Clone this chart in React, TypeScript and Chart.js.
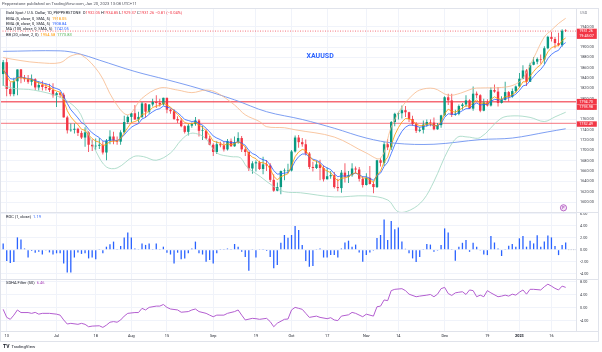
import React, { useEffect, useRef } from 'react';
import { Chart, registerables } from 'chart.js';
Chart.register(...registerables);

// ---- Price data (daily bars Jun 10 2022 .. Jan 20 2023), index = bar number ----
const opens = [
  1848,1871,1819,1809,1834,1857,1840,1838,1833,1838,
  1822,1827,1823,1821,1817,1807,1811,1808,1764,1739,
  1740,1742,1734,1725,1735,1711,1708,1709,1711,1696,
  1719,1727,1719,1717,1735,1755,1765,1772,1760,1765,
  1791,1775,1789,1794,1792,1789,1802,1779,1776,1761,
  1758,1747,1736,1748,1751,1758,1738,1738,1723,1711,
  1697,1712,1710,1702,1718,1708,1716,1724,1702,1697,
  1665,1675,1677,1664,1673,1671,1643,1622,1629,1660,
  1660,1661,1698,1725,1716,1712,1694,1668,1666,1673,
  1666,1644,1650,1652,1629,1627,1657,1649,1652,1665,
  1663,1645,1633,1647,1635,1629,1681,1676,1712,1706,
  1755,1771,1772,1778,1774,1761,1751,1738,1740,1750,
  1755,1754,1741,1749,1768,1803,1797,1769,1771,1786,
  1789,1797,1781,1810,1807,1777,1793,1787,1817,1814,
  1792,1798,1813,1804,1815,1824,1839,1855,1833,1866,
  1872,1877,1876,1898,1920,1916,1908,1904,1932.05
];
const highs = [
  1875,1878,1832,1841,1857,1858,1846,1846,1847,1840,
  1834,1835,1830,1829,1830,1813,1813,1812,1767,1752,
  1752,1744,1738,1745,1737,1721,1723,1724,1718,1722,
  1739,1736,1727,1739,1767,1768,1773,1788,1775,1794,
  1792,1790,1800,1807,1800,1802,1802,1781,1780,1766,
  1763,1749,1751,1754,1765,1761,1748,1741,1728,1714,
  1718,1717,1717,1722,1723,1727,1735,1728,1707,1698,
  1679,1681,1680,1688,1681,1675,1654,1638,1661,1665,
  1674,1701,1729,1730,1724,1721,1697,1678,1680,1682,
  1671,1667,1660,1658,1645,1662,1675,1660,1675,1669,
  1668,1650,1656,1670,1640,1682,1685,1717,1722,1757,
  1773,1775,1787,1786,1775,1767,1755,1745,1758,1760,
  1760,1764,1753,1769,1805,1810,1810,1779,1789,1792,
  1807,1799,1824,1814,1809,1800,1799,1822,1828,1823,
  1805,1833,1815,1820,1826,1850,1865,1858,1870,1881,
  1880,1886,1902,1922,1930,1920,1928,1935,1934.85
];
const lows = [
  1825,1805,1805,1805,1807,1830,1833,1829,1826,1817,
  1816,1816,1816,1813,1802,1784,1802,1764,1733,1736,
  1733,1728,1722,1707,1697,1699,1701,1703,1692,1681,
  1712,1712,1711,1711,1733,1751,1754,1759,1754,1763,
  1764,1771,1785,1782,1785,1787,1772,1771,1759,1753,
  1745,1733,1729,1744,1748,1727,1720,1721,1710,1689,
  1693,1706,1698,1700,1707,1707,1713,1697,1689,1660,
  1655,1659,1662,1654,1660,1639,1620,1621,1615,1642,
  1656,1659,1696,1705,1707,1690,1664,1659,1664,1642,
  1640,1644,1645,1626,1621,1618,1638,1637,1649,1656,
  1640,1628,1632,1634,1617,1627,1669,1670,1701,1701,
  1747,1760,1762,1765,1755,1748,1734,1735,1733,1746,
  1747,1739,1740,1744,1766,1788,1765,1767,1768,1779,
  1784,1781,1777,1801,1774,1776,1785,1785,1812,1785,
  1791,1797,1795,1802,1812,1822,1838,1825,1833,1865,
  1867,1868,1867,1896,1911,1898,1902,1901,1929.37
];
const closes = [
  1871,1819,1809,1834,1857,1840,1838,1833,1838,1822,
  1827,1823,1821,1817,1807,1811,1808,1764,1739,1740,
  1742,1734,1725,1735,1711,1708,1709,1711,1696,1719,
  1727,1719,1717,1735,1755,1765,1772,1760,1765,1791,
  1775,1789,1794,1792,1789,1802,1779,1776,1761,1758,
  1747,1736,1748,1751,1758,1738,1738,1723,1711,1697,
  1712,1710,1702,1718,1708,1716,1724,1702,1697,1665,
  1675,1677,1664,1673,1671,1643,1622,1629,1660,1660,
  1661,1698,1725,1716,1712,1694,1668,1666,1673,1666,
  1644,1650,1652,1629,1627,1657,1649,1652,1665,1663,
  1645,1633,1647,1635,1629,1681,1676,1712,1706,1755,
  1771,1772,1778,1774,1761,1751,1738,1740,1750,1755,
  1754,1741,1749,1768,1803,1797,1769,1771,1786,1789,
  1797,1781,1810,1807,1777,1793,1787,1817,1814,1792,
  1798,1813,1804,1815,1824,1839,1855,1833,1866,1872,
  1877,1876,1898,1920,1916,1908,1904,1932,1931.26
];

// ---- Indicator values ----
const ema5 = [
  1857,1844,1833,1833,1841,1841,1840,1838,1838,1833,
  1831,1828,1826,1823,1818,1815,1813,1797,1777,1765,
  1757,1750,1741,1739,1730,1723,1718,1716,1709,1712,
  1717,1718,1718,1723,1734,1744,1754,1756,1759,1770,
  1771,1777,1783,1786,1787,1792,1788,1784,1776,1770,
  1762,1754,1752,1752,1754,1749,1745,1738,1729,1718,
  1716,1714,1710,1713,1711,1713,1717,1712,1707,1693,
  1687,1684,1677,1676,1674,1664,1650,1643,1649,1652,
  1655,1670,1688,1697,1702,1700,1689,1681,1679,1674,
  1664,1660,1657,1648,1641,1646,1647,1649,1654,1657,
  1653,1646,1647,1643,1638,1652,1660,1678,1687,1710,
  1730,1744,1755,1762,1761,1758,1751,1748,1748,1751,
  1752,1748,1748,1755,1771,1780,1776,1774,1778,1782,
  1787,1785,1793,1798,1791,1792,1790,1799,1804,1800,
  1799,1804,1804,1808,1813,1822,1833,1833,1844,1853,
  1861,1866,1877,1891,1899,1902,1903,1913,1918
];
const ema8 = [
  1856,1848,1839,1838,1842,1842,1841,1839,1839,1835,
  1833,1831,1829,1827,1822,1820,1817,1805,1791,1779,
  1771,1763,1754,1750,1741,1734,1729,1725,1718,1718,
  1720,1720,1719,1723,1730,1738,1745,1749,1752,1761,
  1764,1770,1775,1779,1781,1786,1784,1782,1778,1773,
  1767,1760,1758,1756,1757,1752,1749,1743,1736,1728,
  1724,1721,1717,1717,1715,1715,1717,1714,1710,1700,
  1694,1691,1685,1682,1680,1672,1661,1654,1655,1656,
  1657,1666,1679,1688,1693,1693,1688,1683,1681,1677,
  1670,1666,1663,1655,1649,1651,1650,1651,1654,1656,
  1653,1649,1649,1646,1642,1651,1656,1669,1677,1694,
  1711,1725,1737,1745,1749,1749,1747,1745,1746,1748,
  1750,1748,1748,1752,1764,1771,1770,1770,1773,1777,
  1781,1781,1788,1792,1788,1789,1789,1795,1799,1798,
  1798,1801,1802,1805,1809,1816,1825,1827,1835,1843,
  1851,1857,1866,1878,1886,1891,1894,1904,1909
];
// [bar index, value]
const ma100 = [
  [0,1892],[16,1893],[21,1888],[27,1875],[37,1853],[46,1837],[55,1820],[65,1798],
  [74,1775],[84,1760],[93,1743],[102,1724],[110,1714],[121,1712],[134,1721],
  [143,1724],[153,1736],[158,1742]
];
const bbUpper = [
  [0,1880],[5,1874],[10,1870],[16,1870],[19,1883],[22,1885],[27,1850],[31,1798],[35,1769],
  [39,1801],[44,1821],[49,1817],[53,1812],[57,1817],[60,1812],[65,1788],[68,1769],
  [72,1756],[74,1746],[79,1744],[82,1740],[93,1726],[102,1695],[106,1685],[109,1745],
  [112,1784],[114.5,1804],[117,1817],[121,1820],[125,1807],[128.5,1811],[132,1820],
  [134,1821],[140,1822],[143.5,1827],[146,1840],[149,1879],[152,1920],[154,1933],
  [156,1946],[158,1956]
];
const bbLower = [
  [0,1826],[3,1820],[8.5,1817],[16,1803],[21,1778],[23.5,1740],[26.3,1695],[29,1668],
  [32,1666],[36.6,1688],[39.4,1688],[43,1681],[47,1695],[50,1720],[52.6,1733],
  [55.4,1730],[57.3,1720],[60,1695],[64,1688],[66.6,1686],[68.5,1668],[72.3,1649],
  [76,1630],[79,1620],[83.5,1618],[93,1610],[102,1612],[108,1604],[111,1581],
  [114.5,1585],[118,1604],[121,1640],[125,1701],[127.7,1726],[130.5,1726],[134,1725],
  [139.8,1762],[143.5,1767],[148,1764],[152,1756],[155,1765],[158,1774]
];
const roc = [
  1.05,-1.9,-2.2,-2.05,2.05,1.7,0.2,-1.3,-0.2,-0.5,
  -0.35,-0.8,-0.15,-0.45,-0.8,-0.6,-0.6,-2.3,-3.8,-3.8,
  -1.3,-0.45,-0.7,-0.6,-1.45,-1.3,-1.6,0.05,-0.6,0.5,
  0.9,1.35,0.05,0.6,2.05,2.85,2.05,0.2,0.05,1.05,
  0.8,1.05,0.05,1.05,0.05,0.5,-0.5,-0.8,-2.3,-0.5,
  -1.6,-1.45,-0.6,0.2,1.35,-0.6,-0.8,-2.0,-1.7,-2.3,
  -0.6,0.05,0.05,0.2,0.05,0.95,0.5,-0.35,-1.2,-3.5,
  0.05,-1.3,0.05,0.05,-0.2,-1.2,-3.1,-2.55,1.15,2.45,
  2.0,2.45,3.95,3.3,
  0.8,-1.9,-2.85,-2.7,0.05,0.2,-1.3,-1.3,-0.9,-0.9,
  -1.3,0.2,1.2,1.5,0.5,0.85,-0.45,-2.0,-0.9,-0.45,
  -0.15,1.95,2.45,5.05,1.6,4.8,3.4,3.7,1.35,0.15,
  -0.6,-1.45,-2.05,-1.2,0.05,0.95,0.85,-0.35,-0.15,0.8,
  3.55,2.85,0.05,-1.85,0.5,1.15,1.6,-0.35,1.15,0.5,
  -0.15,-0.8,-0.9,2.3,1.2,0.2,-1.05,0.05,0.65,0.95,
  0.5,1.9,2.3,0.5,1.5,1.05,2.4,0.5,1.35,2.35,
  2.05,0.6,-0.9,0.8,1.2
];
const smi = [
  [0,-0.5],[1,-3.0],[2,-3.6],[3,-2.3],[4,-0.7],[5,-1.5],[7,-1.5],[8,-1.75],[9,-1.45],[10,-2.0],
  [11,-1.75],[13,-1.75],[15,-2.0],[16,-2.3],[17,-3.8],[18,-5.05],[19,-4.85],[21,-5.15],[22,-4.85],
  [23,-5.15],[24,-5.9],[25,-5.7],[27,-5.6],[28,-6.1],[29,-5.4],[30,-4.5],[31,-4.3],[32,-4.5],
  [33,-3.8],[34,-2.6],[35,-1.75],[37,-1.5],[38,-1.5],[39,-0.2],[40,-0.7],[41,0.1],[43,0.5],
  [44,0.5],[45,1.0],[46,0.1],[47,-0.4],[49,-0.7],[50,-1.4],[52,-1.2],[53,-0.7],[54,-0.4],
  [55,-1.2],[57,-1.75],[58,-2.3],[59,-2.8],[60,-2.3],[62,-2.3],[63,-1.75],[65,-1.2],[66,-0.7],
  [67,-2.3],[68,-3.8],[70,-3.3],[71,-3.4],[72,-3.6],[74,-3.3],[75,-4.3],[76,-5.9],[77,-4.8],
  [79,-3.6],[80,-3.5],[81,-0.7],[82,0.1],[83,-0.2],[84,-0.5],[85,-1.75],[86,-3.0],[88,-2.6],
  [89,-3.0],[91,-3.4],[92,-3.1],[93,-3.8],[94,-4.0],[95,-2.6],[97,-2.2],[98,-1.45],[99,-1.75],
  [101,-2.8],[102,-2.0],[104,-2.6],[105,0.3],[106,0.5],[107,2.4],[108,2.2],[109,5.3],[110,5.7],
  [112,5.9],[113,5.3],[114,4.2],[116,3.4],[117,3.6],[119,3.9],[120,4.1],[121,3.4],[122,4.2],
  [123,5.9],[124,6.3],[125,4.4],[126,3.8],[127,4.6],[128,4.8],[129,4.95],[130,4.1],[131,5.5],
  [132,5.3],[133,3.4],[134,3.9],[135,3.4],[136,5.3],[137,4.6],[139,3.4],[140,3.6],[141,3.9],
  [142,3.6],[143,4.2],[144,3.9],[145,4.8],[146,5.5],[147,4.2],[148,5.7],[149,5.7],[151,5.5],
  [152,6.5],[153,7.3],[154,6.7],[155,6.0],[156,5.5],[157,6.7],[158,6.3]
];

// ---- Axes ----
const xTickIdx = [1,15,26,36,46,59,71,81,91,102,111,124,136,145,154];
const xTickLabels = ['13','Jul','18','Aug','15','Sep','19','Oct','17','Nov','14','Dec','19','2023','16'];
const priceTicks = [1600,1620,1640,1660,1680,1700,1720,1740,1760,1780,1800,1820,1840,1860,1880,1900,1920,1940];
const rocTicks = [6,4,2,0,-2,-4];
const smiTicks = [8,4,0,-4];
const levels = [1794.70, 1793.98, 1752.49];
const lastPrice = 1931.26;

const UP = '#089981';
const DOWN = '#f23645';
const TXT = '#131722';
const AX = '#3b3e48';
const GRID = '#f0f3fa';
const FONT = 'Roboto, "Noto Sans", sans-serif';

const candleColor = (c: any) => {
  const i = c.dataIndex;
  return closes[i] >= opens[i] ? UP : DOWN;
};

const paneClip = {
  id: 'paneClip',
  beforeDatasetDraw(chart: any, args: any) {
    const ys = args.meta.yScale;
    const a = chart.chartArea;
    const ctx = chart.ctx;
    ctx.save();
    ctx.beginPath();
    ctx.rect(a.left, ys.top, a.right - a.left, ys.bottom - ys.top);
    ctx.clip();
  },
  afterDatasetDraw(chart: any) {
    chart.ctx.restore();
  },
};

function segs(ctx: CanvasRenderingContext2D, x: number, y: number, parts: [string, string][]) {
  for (const [t, c] of parts) {
    ctx.fillStyle = c;
    ctx.fillText(t, x, y);
    x += ctx.measureText(t).width;
  }
}

function priceBox(ctx: CanvasRenderingContext2D, x: number, yc: number, lines: string[]) {
  const h = 4.8 * lines.length + 0.6;
  ctx.fillStyle = DOWN;
  ctx.fillRect(x, yc - 2.7, 20, h);
  ctx.fillStyle = '#ffffff';
  ctx.font = `3.8px ${FONT}`;
  ctx.textBaseline = 'middle';
  ctx.textAlign = 'left';
  lines.forEach((l, k) => ctx.fillText(l, x + 2.4, yc + k * 4.6));
}

const overlay = {
  id: 'overlay',
  beforeDatasetsDraw(chart: any) {
    const ctx = chart.ctx as CanvasRenderingContext2D;
    const a = chart.chartArea;
    const y = chart.scales.y;
    ctx.save();
    ctx.strokeStyle = 'rgba(242,54,69,0.55)';
    ctx.lineWidth = 1.2;
    for (const v of levels) {
      const py = y.getPixelForValue(v);
      ctx.beginPath();
      ctx.moveTo(a.left, py);
      ctx.lineTo(a.right, py);
      ctx.stroke();
    }
    const lp = y.getPixelForValue(lastPrice);
    ctx.strokeStyle = DOWN;
    ctx.lineWidth = 0.7;
    ctx.setLineDash([1, 1.5]);
    ctx.beginPath();
    ctx.moveTo(a.left, lp);
    ctx.lineTo(a.right, lp);
    ctx.stroke();
    const yr = chart.scales.yRoc;
    const x0 = chart.scales.x.getPixelForValue(closes.length - 1) + 2.5;
    ctx.strokeStyle = '#b2b5be';
    ctx.beginPath();
    ctx.moveTo(x0, yr.getPixelForValue(0));
    ctx.lineTo(a.right, yr.getPixelForValue(0));
    ctx.stroke();
    ctx.setLineDash([]);
    ctx.restore();
  },
  afterDraw(chart: any) {
    const ctx = chart.ctx as CanvasRenderingContext2D;
    const a = chart.chartArea;
    const y = chart.scales.y;
    const yr = chart.scales.yRoc;
    const ys = chart.scales.ySmi;
    ctx.save();
    ctx.strokeStyle = '#e0e3eb';
    ctx.lineWidth = 1;
    ctx.strokeRect(0.5, 8.5, 598, 333);
    for (const p of [yr.top, ys.top, ys.bottom]) {
      ctx.beginPath();
      ctx.moveTo(0, Math.round(p) + 0.5);
      ctx.lineTo(598.5, Math.round(p) + 0.5);
      ctx.stroke();
    }

    ctx.textBaseline = 'middle';
    ctx.textAlign = 'left';
    ctx.font = `4.2px ${FONT}`;
    ctx.fillStyle = '#50535e';
    ctx.fillText('Pepperstone published on TradingView.com, Jan 20, 2023 13:08 UTC+11', 2, 4);

    ctx.font = `4px ${FONT}`;
    segs(ctx, 6, 13.3, [
      ['Gold Spot / U.S. Dollar, 1D, PEPPERSTONE  ', TXT], ['O', TXT], ['1932.05', DOWN],
      [' H', TXT], ['1934.85', DOWN], [' L', TXT], ['1929.37', DOWN], [' C', TXT], ['1931.26', DOWN],
      [' \u22120.81 (\u22120.04%)', DOWN],
    ]);
    segs(ctx, 6, 18.7, [['EMA (5, close, 0, SMA, 5)  ', TXT], ['1918.05', '#ff9800']]);
    segs(ctx, 6, 24, [['EMA (8, close, 0, SMA, 5)  ', TXT], ['1908.84', '#2962ff']]);
    segs(ctx, 6, 29.3, [['MA (100, close, 0, SMA, 5)  ', TXT], ['1742.05', '#2962ff']]);
    segs(ctx, 6, 34.6, [['BB (20, close, 2, 0)  ', TXT], ['1954.58', '#ff9800'], ['  ', TXT], ['1773.83', '#4caf50']]);
    segs(ctx, 6, yr.top + 5.3, [['ROC (1, close)  ', TXT], ['1.19', '#2962ff']]);
    segs(ctx, 6, ys.top + 4.3, [['SDHA Filter (50)  ', TXT], ['6.46', '#ab47bc']]);

    ctx.font = `bold 7px ${FONT}`;
    ctx.fillStyle = '#2962ff';
    ctx.fillText('XAUUSD', 306.5, 56.7);

    ctx.font = `3.8px ${FONT}`;
    ctx.fillStyle = '#787b86';
    ctx.fillText('USD', 580, 13);

    const bx = a.right + 0.8;
    priceBox(ctx, bx, y.getPixelForValue(lastPrice) + 0.3, ['1931.26', '19:45:07']);
    const l0 = y.getPixelForValue(levels[0]);
    priceBox(ctx, bx, l0, ['1794.70']);
    priceBox(ctx, bx, l0 + 5.6, ['1793.98']);
    priceBox(ctx, bx, y.getPixelForValue(levels[2]) + 0.7, ['1752.49']);

    ctx.strokeStyle = '#ab47bc';
    ctx.fillStyle = '#f3e5f5';
    ctx.lineWidth = 0.8;
    ctx.beginPath();
    ctx.arc(563.5, 207.8, 3.1, 0, Math.PI * 2);
    ctx.fill();
    ctx.stroke();
    ctx.fillStyle = '#ab47bc';
    ctx.font = `bold 3.6px ${FONT}`;
    ctx.textAlign = 'center';
    ctx.fillText('P', 563.5, 208);

    ctx.textAlign = 'left';
    ctx.fillStyle = TXT;
    ctx.font = `bold 5px ${FONT}`;
    ctx.fillText('TV', 3, 346.5);
    ctx.font = `4.3px ${FONT}`;
    ctx.fillText('TradingView', 11.5, 346.5);
    ctx.restore();
  },
};

const yAxisCommon = (ticks: number[]) => ({
  type: 'linear' as const,
  position: 'right' as const,
  stack: 'panes',
  afterBuildTicks: (s: any) => { s.ticks = ticks.map((v) => ({ value: v })); },
  afterFit: (s: any) => { s.width = 22; },
  ticks: {
    autoSkip: false,
    callback: (v: any) => Number(v).toFixed(2),
    color: AX,
    font: { size: 3.8, family: FONT },
    padding: 4,
  },
  grid: { color: GRID, drawTicks: false, lineWidth: 1 },
  border: { display: true, color: '#e0e3eb' },
});

export default function App() {
  const ref = useRef<HTMLCanvasElement>(null);
  useEffect(() => {
    document.body.style.margin = '0';
    const canvas = ref.current!;
    const line = (pts: any[], color: string, w: number, axis: string, tension = 0) => ({
      type: 'line' as const,
      data: pts,
      borderColor: color,
      borderWidth: w,
      pointRadius: 0,
      tension,
      yAxisID: axis,
      order: 0,
    });
    const chart = new Chart(canvas, {
      type: 'bar',
      data: {
        datasets: [
          line(bbUpper.map(([x, v]) => ({ x, y: v })), '#f8b98a', 0.8, 'y', 0.35),
          line(bbLower.map(([x, v]) => ({ x, y: v })), '#9ed5c0', 0.8, 'y', 0.35),
          line(ma100.map(([x, v]) => ({ x, y: v })), '#6f94f0', 0.9, 'y', 0.35),
          line(ema5.map((v, i) => ({ x: i, y: v })), '#ff9800', 0.8, 'y'),
          line(ema8.map((v, i) => ({ x: i, y: v })), '#2962ff', 0.8, 'y'),
          {
            type: 'bar',
            data: opens.map((o, i) => ({ x: i, y: [o, closes[i]] })),
            backgroundColor: candleColor,
            barThickness: 2.4,
            minBarLength: 0.6,
            grouped: false,
            inflateAmount: 0,
            yAxisID: 'y',
            order: 1,
          } as any,
          {
            type: 'bar',
            data: lows.map((l, i) => ({ x: i, y: [l, highs[i]] })),
            backgroundColor: candleColor,
            barThickness: 0.8,
            grouped: false,
            inflateAmount: 0,
            yAxisID: 'y',
            order: 2,
          } as any,
          {
            type: 'bar',
            data: roc.map((v, i) => ({ x: i, y: v })),
            backgroundColor: '#2962ff',
            barThickness: 1.3,
            grouped: false,
            inflateAmount: 0,
            yAxisID: 'yRoc',
            order: 3,
          } as any,
          line(smi.map(([x, v]) => ({ x, y: v })), '#b35ed0', 1, 'ySmi'),
        ],
      },
      options: {
        animation: false,
        responsive: false,
        devicePixelRatio: 1,
        events: [],
        layout: { padding: { top: 8, left: 0, right: 4, bottom: 11 } },
        plugins: { legend: { display: false }, tooltip: { enabled: false } },
        scales: {
          x: {
            type: 'linear',
            min: -0.89,
            max: 160.9,
            offset: false,
            afterBuildTicks: (s: any) => { s.ticks = xTickIdx.map((v) => ({ value: v })); },
            afterFit: (s: any) => { s.height = 10; },
            ticks: {
              autoSkip: false,
              maxRotation: 0,
              minRotation: 0,
              padding: 3,
              color: TXT,
              callback: (_v: any, i: number) => xTickLabels[i],
              font: (c: any) => ({ size: 3.8, family: FONT, weight: c.index === 13 ? 'bold' : 'normal' }),
            },
            grid: { color: GRID, drawTicks: false, offset: false },
            border: { display: false },
          },
          y: { ...yAxisCommon(priceTicks), stackWeight: 204, min: 1580.7, max: 1976 },
          yRoc: { ...yAxisCommon(rocTicks), stackWeight: 67, min: -4.88, max: 6.28 },
          ySmi: { ...yAxisCommon(smiTicks), stackWeight: 52, min: -7.22, max: 8.9 },
        } as any,
      },
      plugins: [paneClip, overlay],
    } as any);
    return () => chart.destroy();
  }, []);
  return (
    <canvas
      ref={ref}
      width={602}
      height={352}
      style={{ display: 'block', position: 'absolute', left: 0, top: 0, width: 602, height: 352 }}
    />
  );
}
